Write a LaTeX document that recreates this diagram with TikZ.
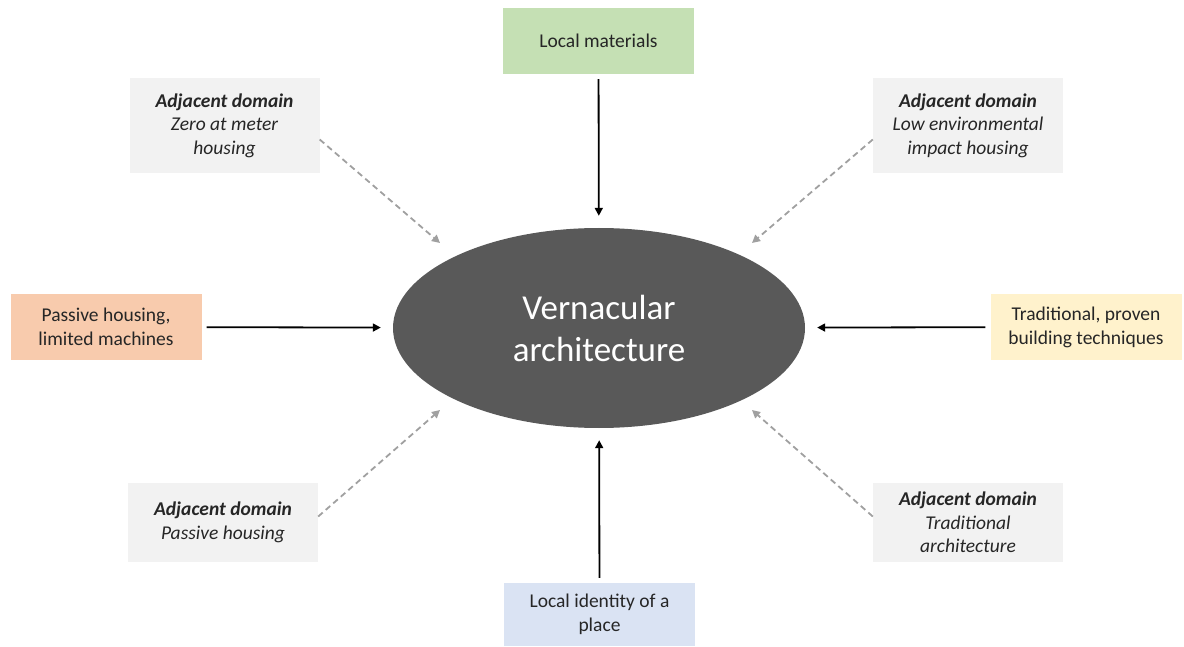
\documentclass[tikz,border=0pt]{standalone}
\usepackage{fontspec}
\setmainfont{Carlito}
\usetikzlibrary{arrows.meta,shapes.geometric}

\definecolor{matgreen}{HTML}{C5E0B4}
\definecolor{pasorange}{HTML}{F8CBAD}
\definecolor{tradyellow}{HTML}{FFF2CC}
\definecolor{idblue}{HTML}{DAE3F3}
\definecolor{adjgray}{HTML}{F2F2F2}
\definecolor{coregray}{HTML}{595959}
\definecolor{hintgray}{HTML}{A0A0A0}

\begin{document}
\begin{tikzpicture}[x=1pt,y=-1pt,
		box/.style={minimum width=191pt,minimum height=66pt,inner sep=0pt,align=center,text=black!85,font=\fontsize{19.5}{24}\selectfont},
		adj/.style={fill=adjgray,minimum width=190pt,minimum height=95pt,inner sep=0pt,align=center,text=black!85,font=\fontsize{19.5}{23.5}\selectfont\itshape},
		flow/.style={-{Triangle[length=8pt,width=8pt]},line width=1.8pt,shorten <=5pt,shorten >=12pt},
		hint/.style={-{Triangle[length=8pt,width=8pt]},line width=1.8pt,hintgray,dash pattern=on 6pt off 4pt}]
		\useasboundingbox (0,0) rectangle (1184,647);
		\node[ellipse,fill=coregray,minimum width=412pt,minimum height=200pt,inner sep=0pt,text=white,align=center,font=\fontsize{35}{42}\selectfont] (core) at (599,328) {Vernacular\\architecture};
		\node[box,fill=matgreen] (mat) at (598.5,41) {Local materials};
		\node[box,fill=pasorange] (pas) at (106,327) {Passive housing,\\limited machines};
		\node[box,fill=tradyellow] (trad) at (1086,327) {Traditional, proven\\building techniques};
		\node[box,fill=idblue,minimum height=63pt] (idn) at (599.5,614.5) {Local identity of a\\place};
		\node[adj] (zero) at (224.5,125.5) {\textbf{Adjacent domain}\\Zero at meter\\housing};
		\node[adj] (low) at (968,125.5) {\textbf{Adjacent domain}\\Low environmental\\impact housing};
		\node[adj,minimum height=79pt] (phs) at (223,522.5) {\textbf{Adjacent domain}\\Passive housing};
		\node[adj,minimum height=79pt] (tarch) at (968,522.5) {\textbf{Adjacent domain}\\Traditional\\architecture};
		% ends of the dashed arrows
		\coordinate (zeroend) at (440,243);
		\coordinate (lowend) at (752,243);
		\coordinate (phsend) at (440,410);
		\coordinate (tarchend) at (752,410);
		\draw[flow] (mat) -- (core);
		\draw[flow] (pas) -- (core);
		\draw[flow] (trad) -- (core);
		\draw[flow] (idn) -- (core);
		\draw[hint] ([yshift=-14pt]zero.east) -- (zeroend);
		\draw[hint] ([yshift=-14pt]low.west) -- (lowend);
		\draw[hint] ([yshift=6pt]phs.east) -- (phsend);
		\draw[hint] ([yshift=6pt]tarch.west) -- (tarchend);
	\end{tikzpicture}
\end{document}
